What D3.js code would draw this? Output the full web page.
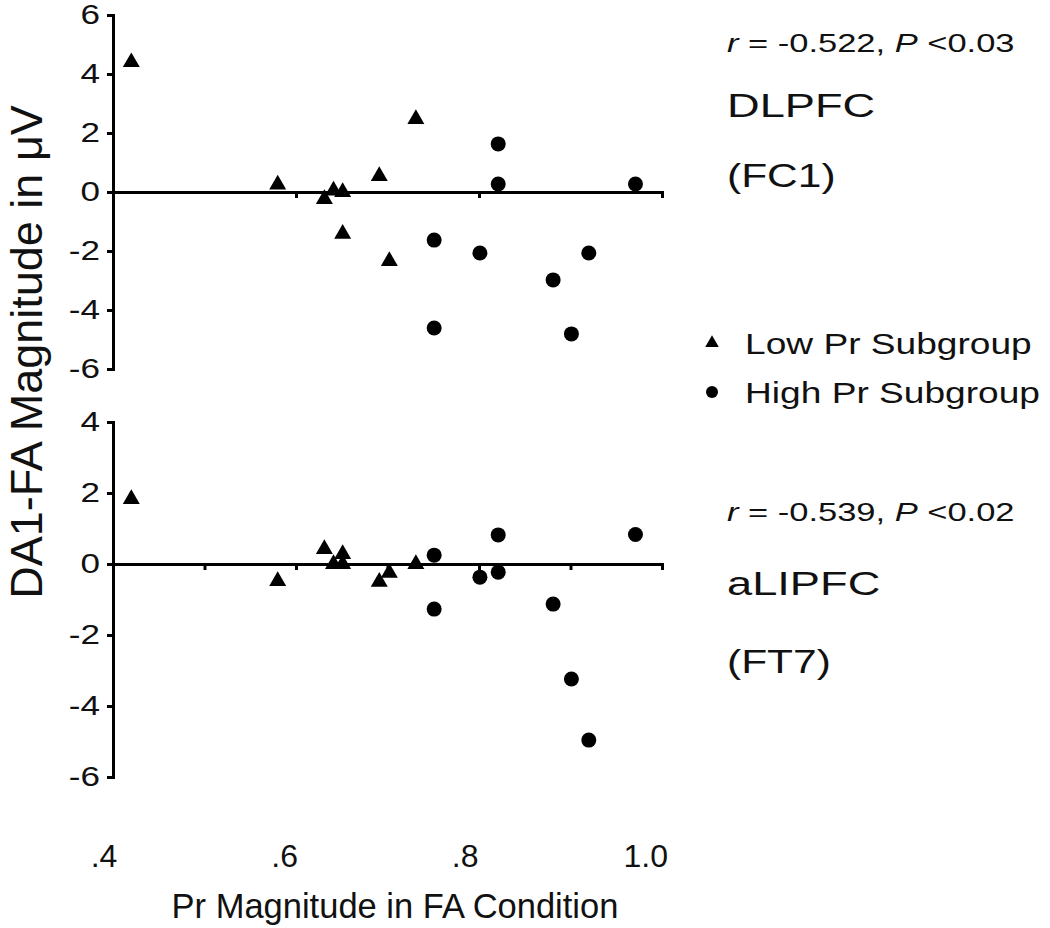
<!DOCTYPE html>
<html>
<head>
<meta charset="utf-8">
<script src="https://cdn.jsdelivr.net/npm/d3@7"></script>
<style>
  html, body { margin: 0; padding: 0; background: #fff; }
  svg { display: block; font-family: "Liberation Sans", Arial, sans-serif; }
</style>
</head>
<body>
<svg id="chart" width="1050" height="928"></svg>
<script>
// ---- data ----
const lowX      = [0.42, 0.58, 0.631, 0.641, 0.651, 0.651, 0.691, 0.702, 0.731];
const lowTop    = [4.4, 0.25, -0.24, 0.05, 0.0, -1.42, 0.54, -2.34, 2.47];
const lowBottom = [1.83, -0.48, 0.42, 0.0, 0.28, 0.0, -0.5, -0.25, 0.0];

const highX      = [0.751, 0.751, 0.801, 0.821, 0.821, 0.881, 0.901, 0.92, 0.971];
const highTop    = [-1.63, -4.61, -2.07, 1.63, 0.27, -2.98, -4.81, -2.07, 0.27];
const highBottom = [0.25, -1.27, -0.37, 0.82, -0.23, -1.13, -3.24, -4.96, 0.83];

const xTickValues = [0.4, 0.6, 0.8, 1.0];
const xTickLabels = [".4", ".6", ".8", "1.0"];
const yTicksTop = [-6, -4, -2, 0, 2, 4, 6];
const yTicksBottom = [-6, -4, -2, 0, 2, 4];
const xMinorTop = [0.6, 0.8];
const xMinorBottom = [0.5, 0.6, 0.7, 0.8, 0.9];

const panels = [
  { name: "top", low: lowTop, high: highTop, domain: [-6, 6], range: [369, 15], ticks: yTicksTop, minor: xMinorTop,
    stat: ["-0.522", "0.03"], region: "DLPFC", electrode: "(FC1)" },
  { name: "bottom", low: lowBottom, high: highBottom, domain: [-6, 4], range: [777, 422], ticks: yTicksBottom, minor: xMinorBottom,
    stat: ["-0.539", "0.02"], region: "aLIPFC", electrode: "(FT7)" }
];

const svg = d3.select("#chart");
const x = d3.scaleLinear().domain([0.4, 1.0]).range([113, 662]);
const SX = 1.3; // horizontal text stretch seen in the figure

panels.forEach(p => {
  const y = d3.scaleLinear().domain(p.domain).range(p.range);
  const g = svg.append("g");

  // y axis
  const yAxis = d3.axisLeft(y).tickValues(p.ticks).tickSize(6).tickSizeOuter(6).tickFormat("");
  const ya = g.append("g").attr("transform", `translate(${x(0.4)},0)`).call(yAxis);
  ya.selectAll("path, line").attr("stroke", "#000").attr("stroke-width", 3);

  // y tick labels
  g.selectAll("text.ytl").data(p.ticks).enter().append("text")
    .attr("class", "ytl")
    .attr("transform", d => `translate(100,${y(d)}) scale(${SX},1)`)
    .attr("text-anchor", "end").attr("dominant-baseline", "central")
    .attr("font-size", 27).attr("fill", "#111")
    .text(d => d);

  // zero line (x axis)
  const xAxis = d3.axisBottom(x).tickValues(p.minor).tickSize(6).tickSizeOuter(6).tickFormat("");
  const xa = g.append("g").attr("transform", `translate(0,${y(0)})`).call(xAxis);
  xa.selectAll("path, line").attr("stroke", "#000").attr("stroke-width", 3);

  // points
  const tri = d3.symbol(d3.symbolTriangle, 125);
  g.selectAll("path.low").data(lowX.map((v, i) => [v, p.low[i]])).enter().append("path")
    .attr("class", "low").attr("d", tri)
    .attr("transform", d => `translate(${x(d[0])},${y(d[1])})`)
    .attr("fill", "#000");
  g.selectAll("circle.high").data(highX.map((v, i) => [v, p.high[i]])).enter().append("circle")
    .attr("class", "high").attr("r", 7.5)
    .attr("cx", d => x(d[0])).attr("cy", d => y(d[1]))
    .attr("fill", "#000");
});

// x tick labels
svg.selectAll("text.xtl").data(xTickValues).enter().append("text")
  .attr("class", "xtl")
  .attr("x", (d) => x(d) - 9 - (d - 0.4) * 12).attr("y", 867)
  .attr("text-anchor", "middle").attr("font-size", 32).attr("fill", "#111")
  .text((d, i) => xTickLabels[i]);

// axis titles
svg.append("text")
  .attr("x", 395).attr("y", 918)
  .attr("text-anchor", "middle").attr("font-size", 34.5).attr("fill", "#111")
  .text("Pr Magnitude in FA Condition");

svg.append("text")
  .attr("transform", "translate(42,352) rotate(-90)")
  .attr("text-anchor", "middle").attr("font-size", 45).attr("fill", "#111")
  .text("DA1-FA Magnitude in μV");

// right-side annotations
const statBase = [52, 521];
const regionBase = [117, 595];
const elecBase = [187, 673];
panels.forEach((p, i) => {
  const t = svg.append("text")
    .attr("transform", `translate(727,${statBase[i]}) scale(1.38,1)`)
    .attr("font-size", 25).attr("fill", "#111");
  t.append("tspan").attr("font-style", "italic").text("r");
  t.append("tspan").text(` = ${p.stat[0]}, `);
  t.append("tspan").attr("font-style", "italic").text("P");
  t.append("tspan").text(` <${p.stat[1]}`);

  svg.append("text")
    .attr("transform", `translate(727,${regionBase[i]}) scale(1.33,1)`)
    .attr("font-size", 34).attr("fill", "#111").text(p.region);
  svg.append("text")
    .attr("transform", `translate(727,${elecBase[i]}) scale(1.25,1)`)
    .attr("font-size", 34).attr("fill", "#111").text(p.electrode);
});

// legend
const legendItems = ["Low Pr Subgroup", "High Pr Subgroup"];
const legendY = [343, 392];
legendItems.forEach((label, i) => {
  if (i === 0) {
    svg.append("path").attr("d", d3.symbol(d3.symbolTriangle, 80))
      .attr("transform", `translate(712,${legendY[i]})`).attr("fill", "#000");
  } else {
    svg.append("circle").attr("cx", 712).attr("cy", legendY[i]).attr("r", 6).attr("fill", "#000");
  }
  svg.append("text")
    .attr("transform", `translate(745,${legendY[i] + 11}) scale(1.28,1)`)
    .attr("font-size", 29).attr("fill", "#111").text(label);
});
</script>
</body>
</html>
